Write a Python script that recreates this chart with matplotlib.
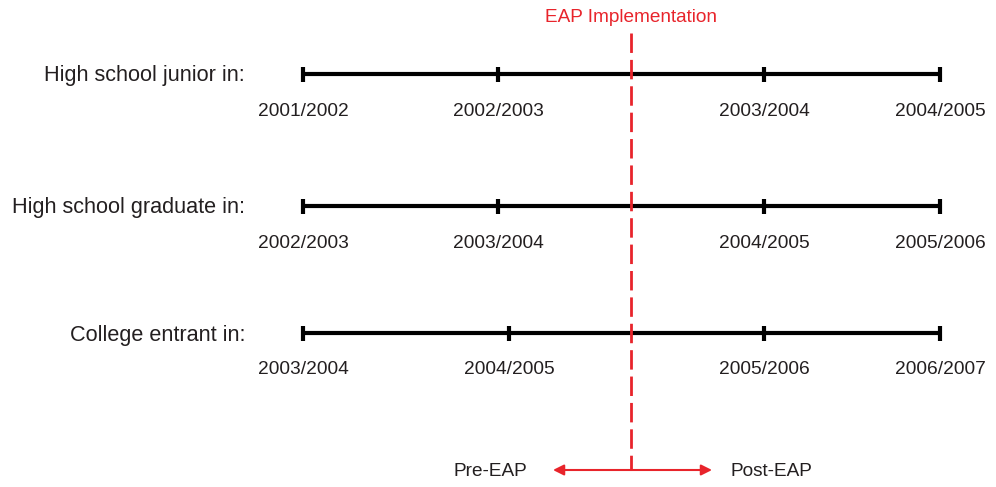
import matplotlib

matplotlib.use("Agg")
import matplotlib.pyplot as plt

plt.rcParams["font.family"] = ["Liberation Sans", "DejaVu Sans"]

# rows of the timeline (label, tick labels, tick x-positions in picture units)
row_labels = ["High school junior in:", "High school graduate in:", "College entrant in:"]
row_y = [74, 206, 333]
tick_labels = [
    ["2001/2002", "2002/2003", "2003/2004", "2004/2005"],
    ["2002/2003", "2003/2004", "2004/2005", "2005/2006"],
    ["2003/2004", "2004/2005", "2005/2006", "2006/2007"],
]
tick_x = [
    [303, 498, 764, 940],
    [303, 498, 764, 940],
    [303, 509, 764, 940],
]
eap_x = 631
red = "#e8242b"
ink = "#231f20"

fig = plt.figure(figsize=(9.96, 4.87), dpi=100)
ax = fig.add_axes([0, 0, 1, 1])
ax.set_xlim(0, 996)
ax.set_ylim(487, 0)
ax.axis("off")

for label, y, labs, xs in zip(row_labels, row_y, tick_labels, tick_x):
    ax.plot([xs[0], xs[-1]], [y, y], color="black", lw=3, solid_capstyle="butt", zorder=2)
    for x, t in zip(xs, labs):
        ax.plot([x, x], [y - 7.5, y + 7.5], color="black", lw=3, solid_capstyle="butt", zorder=2)
        ax.text(x, y + 37, t, ha="center", va="center", fontsize=13.8, color=ink)
    ax.text(245, y + 2, label, ha="right", va="center", fontsize=15.6, color=ink)

# EAP implementation marker
ax.plot([eap_x, eap_x], [33, 470], color=red, lw=2, dashes=(7, 2.5), zorder=3)
ax.text(eap_x, 18, "EAP Implementation", ha="center", va="center", fontsize=13.7, color=red)

# pre / post arrows
for x_end in (553, 712):
    ax.annotate("", xy=(x_end, 470), xytext=(eap_x, 470),
                arrowprops=dict(arrowstyle="-|>", color=red, lw=1.5,
                                mutation_scale=16, shrinkA=0, shrinkB=0))
ax.text(527, 472, "Pre-EAP", ha="right", va="center", fontsize=13.7, color=ink)
ax.text(730, 472, "Post-EAP", ha="left", va="center", fontsize=13.7, color=ink)

fig.savefig("out.png", dpi=100)
